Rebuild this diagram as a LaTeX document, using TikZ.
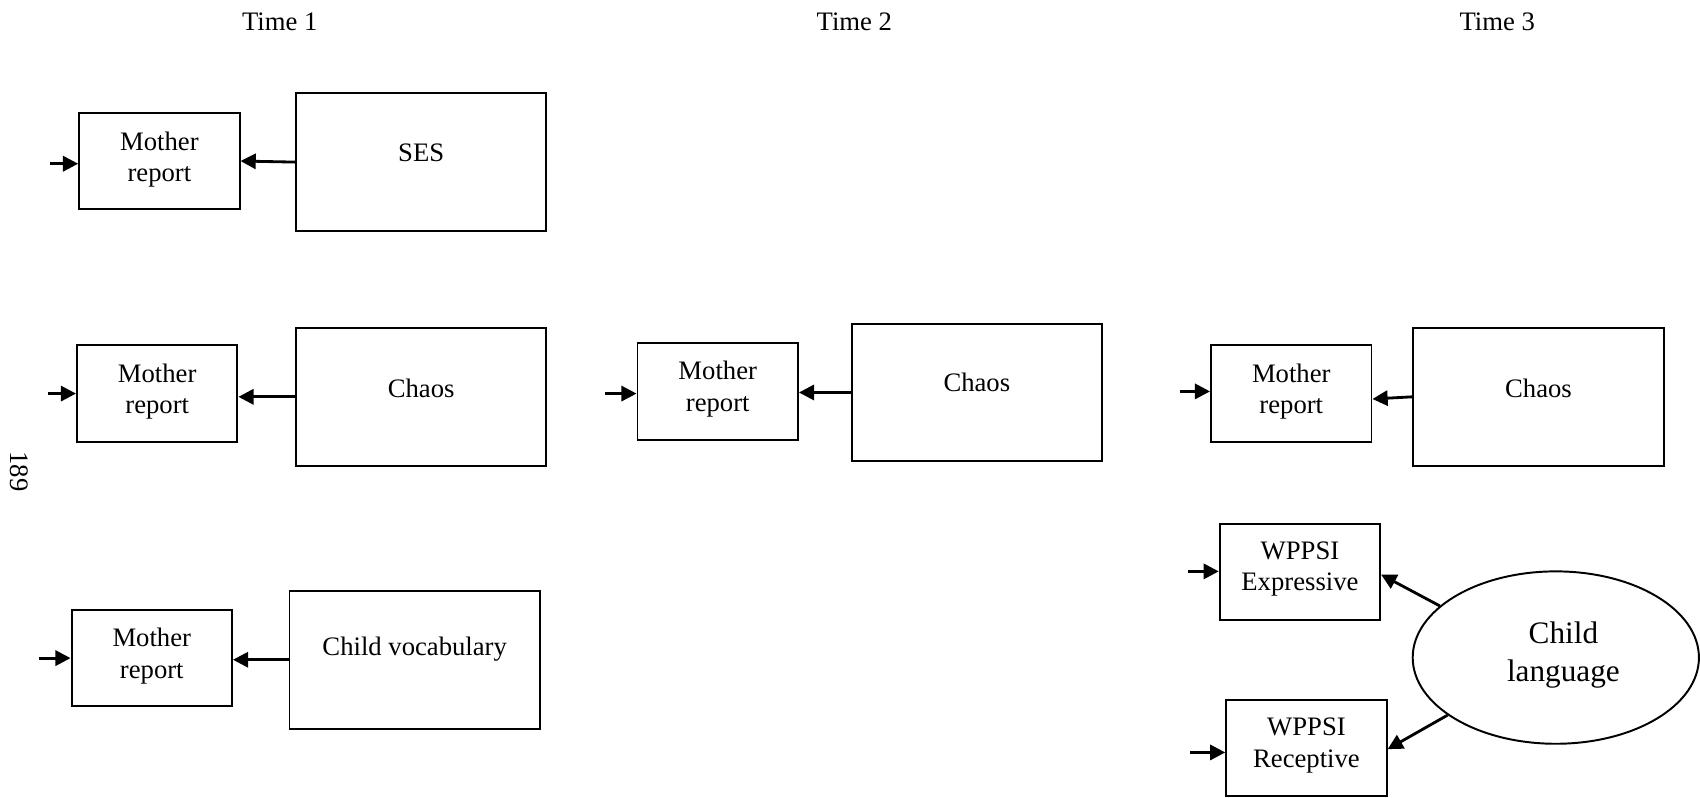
\documentclass[tikz,border=0pt]{standalone}
\usepackage{fontspec}
\setmainfont{Liberation Serif}
\usetikzlibrary{arrows.meta,shapes.geometric}
\begin{document}
\begin{tikzpicture}[x=0.5pt,y=-0.5pt,
  txt/.style={font=\fontsize{12.3}{14.5}\selectfont, align=center, inner sep=0pt},
  mbox/.style={draw, line width=0.9pt, minimum width=74pt, minimum height=44.5pt, inner sep=0pt},
  bigbox/.style={draw, line width=0.9pt, minimum width=115.5pt, minimum height=63.5pt, inner sep=0pt},
  conn/.style={line width=1.3pt, -{Triangle[length=7pt,width=7pt]}}]
\useasboundingbox (0,0) rectangle (1568,736);

% time headings and page number
\node[txt] (t1) at (258,20) {Time 1};
\node[txt] (t2) at (788,20) {Time 2};
\node[txt] (t3) at (1381,20) {Time 3};
\node[txt, rotate=-90] (pg) at (18,435) {189};

% Time 1
\node[mbox] (mr1) at (147,148.5) {};
\node[txt] (mr1t) at (147,147) {Mother\\report};
\node[bigbox] (ses) at (388.5,149.5) {};
\node[txt] (sest) at (388.5,141) {SES};

\node[mbox] (mr2) at (145,363) {};
\node[txt] (mr2t) at (145,361) {Mother\\report};
\node[bigbox] (ch1) at (388.5,366) {};
\node[txt] (ch1t) at (388.5,358) {Chaos};

\node[mbox] (mr3) at (140,607) {};
\node[txt] (mr3t) at (140,605) {Mother\\report};
\node[bigbox] (cv) at (382.5,608.5) {};
\node[txt] (cvt) at (382.5,599) {Child vocabulary};

% Time 2
\node[mbox] (mr4) at (662,361) {};
\node[txt] (mr4t) at (662,359) {Mother\\report};
\node[bigbox, minimum width=115pt] (ch2) at (901,362) {};
\node[txt] (ch2t) at (901,353) {Chaos};

% Time 3
\node[mbox] (mr5) at (1191,363) {};
\node[txt] (mr5t) at (1191,361) {Mother\\report};
\node[bigbox] (ch3) at (1419,366) {};
\node[txt] (ch3t) at (1419,358) {Chaos};

\node[mbox] (wex) at (1199,527.5) {};
\node[txt] (wext) at (1199,525) {WPPSI\\Expressive};
\node[mbox] (wre) at (1205,690) {};
\node[txt] (wret) at (1205,687.5) {WPPSI\\Receptive};

\node[draw, ellipse, line width=0.9pt, minimum width=132pt, minimum height=79.5pt, inner sep=0pt] (cl) at (1435,606.5) {};
\node[txt, font=\fontsize{14.4}{17.8}\selectfont] (clt) at (1442,604) {Child\\language};

% paths between measures
\draw[conn] (ses.west) -- (mr1.east);
\draw[conn] (ch1.west) -- (ch1.west -| mr2.east);
\draw[conn] (cv.west) -- (cv.west -| mr3.east);
\draw[conn] (ch2.west) -- (ch2.west -| mr4.east);
\draw[conn] (ch3.west) -- ([yshift=-2.5pt]mr5.east);
\draw[conn] (cl.156) -- ([yshift=-1.25pt]wex.east);
\draw[conn] (cl.208) -- ([yshift=-0.5pt]wre.east);

% residual arrows
\coordinate (e1) at (46,151);
\coordinate (e2) at (44,363);
\coordinate (e3) at (36,607);
\coordinate (e4) at (558,363);
\coordinate (e5) at (1088,361);
\coordinate (e6) at (1096,527);
\coordinate (e7) at (1098,694);
\draw[conn] (e1) -- (e1 -| mr1.west);
\draw[conn] (e2) -- (e2 -| mr2.west);
\draw[conn] (e3) -- (e3 -| mr3.west);
\draw[conn] (e4) -- (e4 -| mr4.west);
\draw[conn] (e5) -- (e5 -| mr5.west);
\draw[conn] (e6) -- (e6 -| wex.west);
\draw[conn] (e7) -- (e7 -| wre.west);
\end{tikzpicture}
\end{document}
